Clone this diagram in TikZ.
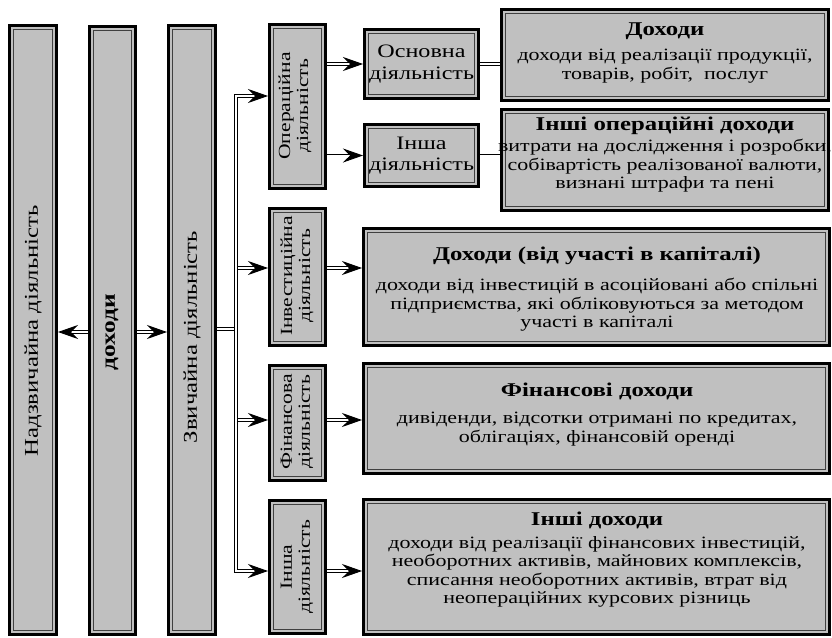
\documentclass[tikz,border=0pt]{standalone}
\usepackage{fontspec}
\setmainfont{Liberation Serif}[FakeStretch=1.27]
\usetikzlibrary{arrows.meta}
\definecolor{boxgray}{RGB}{192,192,192}
\tikzset{
  >={Stealth[length=20pt,width=14pt,inset=7pt]},
  bx/.style={draw=black, line width=3pt, fill=boxgray, inner sep=0pt,
    path picture={\draw[line width=0.9pt, black!75]
      ([shift={(3.6pt,-3.6pt)}]path picture bounding box.north west) rectangle
      ([shift={(-3.6pt,3.6pt)}]path picture bounding box.south east);}},
  conn/.style={draw=black, line width=0.9pt, double=white, double distance=2pt},
  body/.style={inner sep=0pt, align=center, font=\fontsize{17.3}{18.5}\selectfont},
  ttl/.style={inner sep=0pt, anchor=base, font=\bfseries\fontsize{19.5}{20}\selectfont},
  vtext/.style={inner sep=0pt, align=center, rotate=90, font=\fontsize{17}{18}\selectfont},
  htext/.style={inner sep=0pt, align=center, font=\fontsize{19}{21.5}\selectfont},
  coltext/.style={inner sep=0pt, rotate=90, font=\fontsize{19.5}{22}\selectfont},
}
% box from its outer corners (left, top, right, bottom), y running downwards
\newcommand\boxat[5]{\node[bx, minimum width={#4-#2-3}, minimum height={#5-#3-3}]
  (#1) at ({(#2+#4)/2},{(#3+#5)/2}) {};}
\begin{document}
\begin{tikzpicture}[x=1pt, y=-1pt]
\fill[white] (0,0) rectangle (832,637);
\useasboundingbox (0,0) rectangle (832,637);

% three main columns
\boxat{c1}{8}{24}{58}{636}
\boxat{c2}{88}{25}{137}{636}
\boxat{c3}{167}{24}{217}{636}
\node[coltext] (c1t) at (33,331) {Надзвичайна діяльність};
\node[coltext, font=\bfseries\fontsize{20}{22}\selectfont] (c2t) at (112,332) {доходи};
\node[coltext] (c3t) at (192,337) {Звичайна діяльність};

% kinds of activity
\boxat{op}{268}{23}{327}{190}
\boxat{inv}{268}{207}{327}{347}
\boxat{fin}{268}{364}{327}{482}
\boxat{oth}{268}{499}{327}{635}
\node[vtext] (opt) at (295,106) {Операційна\\діяльність};
\node[vtext] (invt) at (297,276) {Інвестиційна\\діяльність};
\node[vtext] (fint) at (297,422) {Фінансова\\діяльність};
\node[vtext] (otht) at (297,567) {Інша\\діяльність};

% operating activity split
\boxat{osn}{363}{28}{480}{100}
\boxat{ins}{363}{123}{480}{188}
\node[htext] (osnt) at (421.5,64) {Основна\\діяльність};
\node[htext] (inst) at (421.5,155.5) {Інша\\діяльність};

% income groups
\boxat{d1}{500}{8}{830}{102}
\boxat{d2}{500}{108}{830}{212}
\boxat{d3}{362}{227}{831}{347}
\boxat{d4}{362}{362}{831}{475}
\boxat{d5}{362}{498}{831}{636}

\node[ttl] (d1h) at (665,35) {Доходи};
\node[body, anchor=north] (d1b) at (665,49) {доходи від реалізації продукції,\\товарів, робіт,\ \ послуг};

\node[ttl] (d2h) at (665,130) {Інші операційні доходи};
\node[body, anchor=north] (d2b) at (665,139) {витрати на дослідження і розробки,\\собівартість реалізованої валюти,\\визнані штрафи та пені};

\node[ttl] (d3h) at (597,260) {Доходи (від участі в капіталі)};
\node[body, anchor=north] (d3b) at (597,278) {доходи від інвестицій в асоційовані або спільні\\підприємства, які обліковуються за методом\\участі в капіталі};

\node[ttl] (d4h) at (597,396) {Фінансові доходи};
\node[body, anchor=north] (d4b) at (597,412) {дивіденди, відсотки отримані по кредитах,\\облігаціях, фінансовій оренді};

\node[ttl] (d5h) at (597,525) {Інші доходи};
\node[body, anchor=north] (d5b) at (597,536) {доходи від реалізації фінансових інвестицій,\\необоротних активів, майнових комплексів,\\списання необоротних активів, втрат від\\неопераційних курсових різниць};

% connector levels
\coordinate (ya) at (0,332);
\coordinate (yb) at (0,329);
\coordinate (bt) at (236,96);
\coordinate (bb) at (236,571);
\coordinate (yinv) at (0,268);
\coordinate (yfin) at (0,420);

% connectors
\draw[conn, ->] (c2.west |- ya) -- (c1.east |- ya);
\draw[conn, ->] (c2.east |- ya) -- (c3.west |- ya);
\draw[conn] (c3.east |- yb) -- (bt |- yb);
\draw[conn, ->] (bt |- yinv) -- (inv.west |- yinv);
\draw[conn, ->] (bt |- yfin) -- (fin.west |- yfin);
\draw[conn, <->] (op.west |- bt) -- (bt) -- (bb) -- (oth.west |- bb);
\draw[conn, ->] (op.east |- osn.west) -- (osn.west);
\draw[conn, ->] (op.east |- ins.west) -- (ins.west);
\draw[conn] (osn.east) -- (osn.east -| d1.west);
\draw[conn] (ins.east) -- (ins.east -| d2.west);
\draw[conn, ->] (inv.east |- yinv) -- (d3.west |- yinv);
\draw[conn, ->] (fin.east |- yfin) -- (d4.west |- yfin);
\draw[conn, ->] (oth.east |- bb) -- (d5.west |- bb);
\end{tikzpicture}
\end{document}
